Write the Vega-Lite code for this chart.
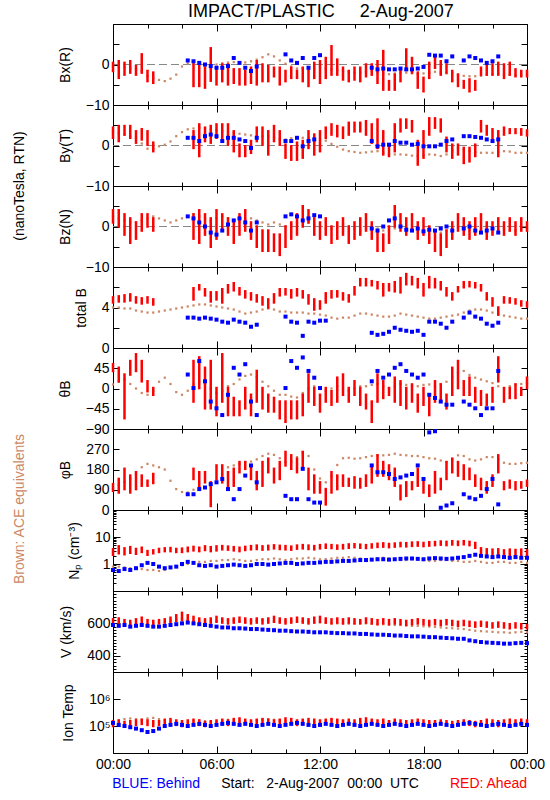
{
"padding":{"left":5,"top":2,"right":0,"bottom":0},
"background":"white",
"title":{"text":"IMPACT/PLASTIC\u00a0\u00a0\u00a0\u00a0\u00a02-Aug-2007","fontSize":18,"fontWeight":"normal","font":"Liberation Sans","anchor":"start","frame":"group","dx":183,"offset":-4,"color":"#000000"},
"data":{"values":[
{"t":0,"xr1":-1.6,"xr2":0.4,"xa":-0.4,"yr1":1.9,"yr2":4.4,"ya":3.5,"zr1":1,"zr2":4,"za":2.5,"br1":4.5,"br2":5.0,"ba":4.0,"hr1":39,"hr2":54,"ha":9,"pr1":85,"pr2":115,"pa":95,"nr1":2.2,"nr2":3.5,"nb":0.6,"na":0.8,"vr1":600,"vr2":625,"vb":590,"va":590,"tr1":1.0e5,"tr2":1.5e5,"tb":1.3e5,"ta":1.5e5},
{"t":20,"xr1":-3.3,"xr2":0.8,"xa":-0.5,"yr1":1.1,"yr2":4.8,"ya":3,"zr1":0,"zr2":4,"za":2,"br1":4.6,"br2":5.1,"ba":4.0,"hr1":16,"hr2":46,"ha":15,"pr1":78,"pr2":138,"pa":110,"nr1":2.5,"nr2":4.5,"nb":0.55,"na":0.8,"vr1":605,"vr2":630,"vb":585,"va":595,"tr1":1.1e5,"tr2":1.6e5,"tb":1.1e5,"ta":1.6e5},
{"t":40,"xr1":-2.5,"xr2":0.4,"xa":-0.7,"yr1":2.7,"yr2":4.8,"ya":2.7,"zr1":-2,"zr2":3,"za":1.5,"br1":4.6,"br2":5.2,"ba":3.9,"hr1":-66,"hr2":31,"ha":20,"pr1":93,"pr2":183,"pa":125,"nr1":2.3,"nr2":3.8,"nb":0.65,"na":0.75,"vr1":600,"vr2":620,"vb":590,"va":600,"tr1":1.0e5,"tr2":1.4e5,"tb":1.0e5,"ta":1.8e5},
{"t":60,"xr1":-2,"xr2":0.8,"xa":-1,"yr1":1.9,"yr2":4.8,"ya":2.3,"zr1":-4,"zr2":2,"za":1,"br1":4.7,"br2":5.3,"ba":3.9,"hr1":31,"hr2":61,"ha":10,"pr1":78,"pr2":153,"pa":140,"nr1":2.6,"nr2":4.2,"nb":0.6,"na":0.7,"vr1":595,"vr2":615,"vb":580,"va":600,"tr1":1.0e5,"tr2":1.5e5,"tb":9e4,"ta":1.9e5},
{"t":80,"xr1":-2.5,"xr2":-0.4,"xa":-1.2,"yr1":0.7,"yr2":3.5,"ya":1.9,"zr1":-3,"zr2":1,"za":1,"br1":4.5,"br2":5.0,"ba":3.7,"hr1":39,"hr2":76,"ha":0,"pr1":93,"pr2":168,"pa":160,"nr1":2.4,"nr2":3.6,"nb":0.7,"na":0.7,"vr1":600,"vr2":625,"vb":585,"va":595,"tr1":1.1e5,"tr2":1.6e5,"tb":8e4,"ta":1.8e5},
{"t":100,"xr1":-2,"xr2":2.5,"xa":-1.6,"yr1":1.5,"yr2":4,"ya":0.5,"zr1":-1,"zr2":3,"za":1.5,"br1":4.4,"br2":4.9,"ba":3.6,"hr1":16,"hr2":61,"ha":-10,"pr1":108,"pr2":153,"pa":190,"nr1":2.8,"nr2":4.0,"nb":0.9,"na":0.65,"vr1":605,"vr2":635,"vb":590,"va":590,"tr1":1.2e5,"tr2":1.7e5,"tb":7e4,"ta":1.7e5},
{"t":120,"xr1":-4.1,"xr2":-1.6,"xa":-2.8,"yr1":0.2,"yr2":3.5,"ya":-0.8,"zr1":0,"zr2":3,"za":2,"br1":4.5,"br2":5.0,"ba":3.5,"hr1":-6,"hr2":16,"ha":-14,"pr1":108,"pr2":130,"pa":205,"nr1":2.2,"nr2":3.0,"nb":1.1,"na":0.6,"vr1":600,"vr2":620,"vb":585,"va":595,"tr1":1.1e5,"tr2":1.6e5,"tb":6e4,"ta":1.9e5},
{"t":140,"xr1":-4.5,"xr2":-2,"xa":-3.3,"yr1":-1.4,"yr2":0.7,"ya":-0.8,"zr1":-1,"zr2":2,"za":2.5,"br1":4.3,"br2":4.8,"ba":3.5,"hr1":-14,"hr2":1,"ha":-5,"pr1":120,"pr2":160,"pa":198,"nr1":2.5,"nr2":3.2,"nb":1.0,"na":0.6,"vr1":595,"vr2":615,"vb":580,"va":600,"tr1":1.0e5,"tr2":1.5e5,"tb":6.5e4,"ta":2.0e5},
{"t":160,"xa":-3.8,"ya":-0.2,"za":2,"ba":3.6,"ha":15,"pa":190,"nr1":2.8,"nr2":3.6,"nb":0.8,"na":0.55,"vr1":600,"vr2":620,"vb":580,"va":605,"tr1":1.1e5,"tr2":1.5e5,"tb":8e4,"ta":1.8e5},
{"t":180,"xa":-4.1,"ya":0.2,"za":1.5,"ba":3.7,"ha":24,"pa":180,"nr1":3.0,"nr2":3.8,"nb":0.7,"na":0.6,"vr1":605,"vr2":625,"vb":585,"va":610,"tr1":1.2e5,"tr2":1.7e5,"tb":1.0e5,"ta":1.6e5},
{"t":200,"xa":-3.5,"ya":1.0,"za":1,"ba":3.8,"ha":10,"pa":130,"nr1":3.0,"nr2":3.9,"nb":0.75,"na":0.7,"vr1":610,"vr2":635,"vb":590,"va":615,"tr1":1.2e5,"tr2":1.8e5,"tb":1.1e5,"ta":1.5e5},
{"t":220,"xa":-2.5,"ya":2.3,"za":1.5,"ba":3.9,"ha":-8,"pa":93,"nr1":2.8,"nr2":3.6,"nb":0.8,"na":0.8,"vr1":615,"vr2":650,"vb":595,"va":620,"tr1":1.1e5,"tr2":1.6e5,"tb":1.2e5,"ta":1.4e5},
{"t":240,"xa":-0.5,"ya":3.3,"za":2,"ba":4.0,"ha":-14,"pa":80,"nr1":2.8,"nr2":3.7,"nb":1.0,"na":0.9,"vr1":620,"vr2":665,"vb":600,"va":625,"tr1":1.0e5,"tr2":1.5e5,"tb":1.1e5,"ta":1.3e5},
{"t":260,"xb":1.0,"xa":0.3,"yb":1.9,"ya":4.0,"zb":2.5,"za":2.5,"bb":3.0,"ba":4.1,"hb":31,"ha":-5,"pb":70,"pa":78,"nr1":3.0,"nr2":4.0,"nb":1.2,"na":1.0,"vr1":615,"vr2":650,"vb":605,"va":620,"tr1":1.1e5,"tr2":1.6e5,"tb":1.0e5,"ta":1.4e5},
{"t":280,"xr1":-5.3,"xr2":0,"xb":0.8,"xa":0.2,"yr1":-0.6,"yr2":3.5,"yb":1.9,"ya":4.2,"zr1":-3,"zr2":3,"zb":2.0,"za":3,"br1":4.8,"br2":5.9,"bb":3.0,"ba":4.2,"hr1":-29,"hr2":61,"hb":1,"ha":9,"pr1":138,"pr2":183,"pb":70,"pa":90,"nr1":3.2,"nr2":4.3,"nb":1.1,"na":1.1,"vr1":610,"vr2":640,"vb":600,"va":615,"tr1":1.2e5,"tr2":1.7e5,"tb":1.1e5,"ta":1.5e5},
{"t":300,"xr1":-5.3,"xr2":-0.4,"xb":0.4,"xa":0,"yr1":-2.6,"yr2":5.2,"yb":1.1,"ya":4.4,"zr1":-4,"zr2":4,"zb":1.0,"za":2.5,"br1":5.8,"br2":6.2,"bb":2.9,"ba":4.3,"hr1":1,"hr2":69,"hb":61,"ha":15,"pr1":93,"pr2":168,"pb":93,"pa":100,"nr1":3.0,"nr2":4.0,"nb":0.9,"na":1.2,"vr1":605,"vr2":630,"vb":595,"va":612,"tr1":1.1e5,"tr2":1.6e5,"tb":1.2e5,"ta":1.6e5},
{"t":320,"xr1":-5.7,"xr2":-0.8,"xb":0,"xa":-0.3,"yr1":1.1,"yr2":4.4,"yb":2.3,"ya":4.3,"zr1":-2,"zr2":3,"zb":0,"za":2,"br1":5.2,"br2":5.8,"bb":3.0,"ba":4.3,"hr1":-44,"hr2":46,"hb":16,"ha":10,"pr1":123,"pr2":168,"pb":100,"pa":100,"nr1":3.3,"nr2":4.5,"nb":0.85,"na":1.2,"vr1":600,"vr2":625,"vb":590,"va":610,"tr1":1.0e5,"tr2":1.4e5,"tb":1.1e5,"ta":1.5e5},
{"t":340,"xr1":-4,"xr2":4,"xb":-0.4,"xa":-0.5,"yr1":0.7,"yr2":4.8,"yb":2.7,"ya":4,"zr1":-5,"zr2":2,"zb":-1.5,"za":1.5,"br1":4.6,"br2":5.5,"bb":2.9,"ba":4.2,"hr1":-44,"hr2":61,"hb":-29,"ha":0,"pr1":18,"pr2":123,"pb":115,"pa":110,"nr1":3.0,"nr2":4.2,"nb":0.9,"na":1.3,"vr1":605,"vr2":630,"vb":585,"va":612,"tr1":1.0e5,"tr2":1.5e5,"tb":1.0e5,"ta":1.4e5},
{"t":360,"xr1":-4.9,"xr2":-0.8,"xb":-0.8,"xa":0,"yr1":1.9,"yr2":5.2,"yb":2.3,"ya":3.8,"zr1":-3,"zr2":4,"zb":-2,"za":2,"br1":4.8,"br2":5.5,"bb":2.8,"ba":4.1,"hr1":-59,"hr2":1,"hb":-44,"ha":-10,"pr1":138,"pr2":198,"pb":123,"pa":130,"nr1":3.2,"nr2":4.5,"nb":0.8,"na":1.3,"vr1":610,"vr2":640,"vb":580,"va":615,"tr1":1.1e5,"tr2":1.6e5,"tb":1.1e5,"ta":1.5e5},
{"t":380,"xr1":-4.1,"xr2":0,"xb":-0.8,"xa":0.3,"yr1":1.1,"yr2":5.2,"yb":1.1,"ya":3.5,"zr1":-1,"zr2":3,"zb":-1,"za":2.5,"br1":4.5,"br2":5.8,"bb":2.6,"ba":4.0,"hr1":-29,"hr2":76,"hb":-59,"ha":-5,"pr1":123,"pr2":198,"pb":138,"pa":160,"nr1":3.5,"nr2":4.6,"nb":0.85,"na":1.4,"vr1":605,"vr2":630,"vb":575,"va":618,"tr1":1.2e5,"tr2":1.7e5,"tb":1.2e5,"ta":1.6e5},
{"t":400,"xr1":-4.9,"xr2":0,"xb":-0.4,"xa":0.5,"yr1":0.2,"yr2":5.2,"yb":1.9,"ya":3.2,"zr1":-2,"zr2":2,"zb":0.5,"za":2,"br1":5.5,"br2":6.2,"bb":2.5,"ba":3.9,"hr1":-59,"hr2":1,"hb":-14,"ha":5,"pr1":93,"pr2":168,"pb":93,"pa":190,"nr1":3.4,"nr2":4.4,"nb":0.9,"na":1.4,"vr1":600,"vr2":625,"vb":575,"va":620,"tr1":1.1e5,"tr2":1.6e5,"tb":1.3e5,"ta":1.7e5},
{"t":420,"xr1":-4.5,"xr2":-1.2,"xb":1.6,"xa":0.6,"yr1":-1.4,"yr2":3.5,"yb":1.9,"ya":3.1,"zr1":-4,"zr2":1,"zb":1.5,"za":1.5,"br1":5.7,"br2":6.4,"bb":2.8,"ba":3.8,"hr1":-59,"hr2":-21,"hb":46,"ha":10,"pr1":108,"pr2":183,"pb":48,"pa":198,"nr1":3.2,"nr2":4.2,"nb":0.95,"na":1.5,"vr1":605,"vr2":630,"vb":570,"va":618,"tr1":1.2e5,"tr2":1.8e5,"tb":1.2e5,"ta":1.6e5},
{"t":440,"xr1":-4.9,"xr2":-1.2,"xb":0.4,"xa":0.4,"yr1":-2.6,"yr2":0.2,"yb":1.5,"ya":2.9,"zr1":-2,"zr2":3,"zb":2,"za":1,"br1":5.3,"br2":5.9,"bb":2.6,"ba":3.6,"hr1":-59,"hr2":-29,"hb":31,"ha":20,"pr1":168,"pr2":213,"pb":93,"pa":205,"nr1":3.0,"nr2":4.0,"nb":0.9,"na":1.4,"vr1":610,"vr2":635,"vb":570,"va":615,"tr1":1.3e5,"tr2":1.9e5,"tb":1.1e5,"ta":1.5e5},
{"t":460,"xr1":-4.9,"xr2":-1.6,"xb":-0.8,"xa":0.5,"yr1":-2.6,"yr2":-0.2,"yb":1.1,"ya":2.7,"zr1":-1,"zr2":4,"zb":1,"za":1.5,"br1":5.0,"br2":5.6,"bb":2.5,"ba":3.4,"hr1":-44,"hr2":1,"hb":54,"ha":28,"pr1":183,"pr2":213,"pb":153,"pa":213,"nr1":3.3,"nr2":4.3,"nb":0.85,"na":1.3,"vr1":605,"vr2":630,"vb":568,"va":612,"tr1":1.2e5,"tr2":1.7e5,"tb":1.2e5,"ta":1.4e5},
{"t":480,"xr1":-4.5,"xr2":-0.8,"xb":-1.6,"xa":0.8,"yr1":-1.8,"yr2":1.1,"yb":-0.6,"ya":2.5,"zr1":-3,"zr2":1,"zb":-1,"za":2,"br1":4.8,"br2":5.4,"bb":2.1,"ba":3.5,"hr1":-59,"hr2":-14,"hb":-29,"ha":31,"pr1":138,"pr2":198,"pb":198,"pa":215,"nr1":3.5,"nr2":4.6,"nb":0.9,"na":1.3,"vr1":600,"vr2":625,"vb":565,"va":615,"tr1":1.1e5,"tr2":1.6e5,"tb":1.1e5,"ta":1.5e5},
{"t":500,"xr1":-4.9,"xr2":0.8,"xb":-0.5,"xa":1.2,"yr1":1.1,"yr2":4.4,"yb":1.9,"ya":2.3,"zr1":-5,"zr2":0,"zb":1,"za":1.5,"br1":4.6,"br2":5.2,"bb":2.3,"ba":3.6,"hr1":-29,"hr2":39,"hb":-59,"ha":25,"pr1":93,"pr2":168,"pb":123,"pa":225,"nr1":3.6,"nr2":4.8,"nb":1.0,"na":1.4,"vr1":605,"vr2":630,"vb":565,"va":618,"tr1":1.2e5,"tr2":1.7e5,"tb":1.0e5,"ta":1.6e5},
{"t":520,"xr1":-4.1,"xr2":0,"xa":1.8,"yr1":0.2,"yr2":4.4,"ya":2.3,"zr1":-6,"zr2":-1,"za":1,"br1":4.3,"br2":5.0,"ba":3.8,"hr1":-44,"hr2":1,"ha":15,"pr1":108,"pr2":213,"pa":240,"nr1":3.4,"nr2":4.5,"nb":1.0,"na":1.5,"vr1":600,"vr2":625,"vb":562,"va":620,"tr1":1.3e5,"tr2":1.8e5,"tb":1.1e5,"ta":1.7e5},
{"t":540,"xr1":-4.1,"xr2":-0.4,"xa":2.5,"yr1":-2.2,"yr2":3.5,"ya":2.3,"zr1":-6,"zr2":-1,"za":0.5,"br1":4.0,"br2":4.8,"ba":3.9,"hr1":-51,"hr2":-14,"ha":5,"pr1":168,"pr2":228,"pa":250,"nr1":3.5,"nr2":4.7,"nb":0.95,"na":1.5,"vr1":605,"vr2":630,"vb":560,"va":618,"tr1":1.2e5,"tr2":1.7e5,"tb":1.2e5,"ta":1.8e5},
{"t":560,"xr1":-2.9,"xr2":-0.8,"xa":2.0,"yr1":1.1,"yr2":4.8,"ya":2,"zr1":-6,"zr2":-2,"za":1,"br1":4.5,"br2":5.3,"ba":3.8,"hr1":-51,"hr2":-21,"ha":-5,"pr1":123,"pr2":183,"pa":245,"nr1":3.8,"nr2":4.9,"nb":1.0,"na":1.6,"vr1":610,"vr2":640,"vb":558,"va":615,"tr1":1.1e5,"tr2":1.6e5,"tb":1.1e5,"ta":1.7e5},
{"t":580,"xr1":-4.9,"xr2":-0.8,"xa":1.0,"yr1":0.2,"yr2":3.5,"ya":1.6,"zr1":-7,"zr2":-2,"za":0.5,"br1":5.2,"br2":5.8,"ba":3.6,"hr1":-66,"hr2":-29,"ha":-14,"pr1":138,"pr2":213,"pa":230,"nr1":3.6,"nr2":4.7,"nb":1.05,"na":1.5,"vr1":605,"vr2":630,"vb":555,"va":612,"tr1":1.2e5,"tr2":1.7e5,"tb":1.0e5,"ta":1.6e5},
{"t":600,"xr1":-4.1,"xr2":-1.6,"xb":2.5,"xa":0.2,"yr1":-3,"yr2":0.2,"yb":1.1,"ya":1.5,"zr1":-5,"zr2":0,"zb":2.5,"za":0,"br1":5.3,"br2":5.8,"bb":3.1,"ba":3.6,"hr1":-74,"hr2":-29,"hb":1,"ha":-14,"pr1":198,"pr2":258,"pb":63,"pa":213,"nr1":3.5,"nr2":4.6,"nb":1.1,"na":1.4,"vr1":600,"vr2":625,"vb":555,"va":610,"tr1":1.3e5,"tr2":1.9e5,"tb":1.1e5,"ta":1.5e5},
{"t":620,"xr1":-3.3,"xr2":-0.8,"xb":1.0,"xa":-0.5,"yr1":-3.5,"yr2":-0.2,"yb":1.1,"ya":1.8,"zr1":-3,"zr2":1,"zb":3,"za":0.5,"br1":5.0,"br2":5.7,"bb":2.6,"ba":3.5,"hr1":-66,"hr2":-29,"hb":61,"ha":-18,"pr1":183,"pr2":243,"pb":48,"pa":215,"nr1":3.4,"nr2":4.4,"nb":1.1,"na":1.5,"vr1":605,"vr2":630,"vb":552,"va":612,"tr1":1.2e5,"tr2":1.8e5,"tb":1.2e5,"ta":1.4e5},
{"t":640,"xr1":-3.3,"xr2":-1.6,"xb":0.4,"xa":-1,"yr1":-3.5,"yr2":0.7,"yb":1.9,"ya":1.9,"zr1":-2,"zr2":3,"zb":2.5,"za":1,"br1":5.2,"br2":5.8,"bb":2.5,"ba":3.5,"hr1":-66,"hr2":-29,"hb":46,"ha":-20,"pr1":168,"pr2":228,"pb":48,"pa":235,"nr1":3.7,"nr2":4.8,"nb":1.0,"na":1.6,"vr1":610,"vr2":635,"vb":550,"va":615,"tr1":1.1e5,"tr2":1.6e5,"tb":1.3e5,"ta":1.5e5},
{"t":660,"xr1":-4.1,"xr2":-0.8,"xb":1.6,"xa":-1,"yr1":-3,"yr2":1.1,"yb":-0.2,"ya":1.9,"zr1":0,"zr2":5,"zb":1.5,"za":1.5,"br1":5.0,"br2":5.6,"bb":1.2,"ba":3.5,"hr1":-59,"hr2":-14,"hb":69,"ha":-10,"pr1":183,"pr2":258,"pb":183,"pa":255,"nr1":3.8,"nr2":5.0,"nb":1.05,"na":1.6,"vr1":605,"vr2":630,"vb":550,"va":612,"tr1":1.2e5,"tr2":1.7e5,"tb":1.2e5,"ta":1.6e5},
{"t":680,"xr1":-5.3,"xr2":-0.8,"xb":-0.8,"xa":-1.2,"yr1":-0.6,"yr2":3.5,"yb":1.1,"ya":1.9,"zr1":1,"zr2":4,"zb":2,"za":1,"br1":4.4,"br2":5.2,"bb":2.6,"ba":3.4,"hr1":-29,"hr2":31,"hb":39,"ha":0,"pr1":93,"pr2":183,"pb":48,"pa":240,"nr1":3.6,"nr2":4.8,"nb":1.1,"na":1.7,"vr1":600,"vr2":625,"vb":548,"va":610,"tr1":1.3e5,"tr2":1.8e5,"tb":1.1e5,"ta":1.5e5},
{"t":700,"xr1":-3.3,"xr2":0.4,"xb":1.6,"xa":-1,"yr1":-2.2,"yr2":2.7,"yb":1.5,"ya":1.7,"zr1":-2,"zr2":2,"zb":2.8,"za":0.5,"br1":3.8,"br2":4.8,"bb":2.5,"ba":3.4,"hr1":-36,"hr2":1,"hb":24,"ha":5,"pr1":78,"pr2":153,"pb":33,"pa":180,"nr1":3.5,"nr2":4.6,"nb":1.1,"na":1.6,"vr1":605,"vr2":635,"vb":545,"va":608,"tr1":1.2e5,"tr2":1.7e5,"tb":1.0e5,"ta":1.4e5},
{"t":720,"xr1":-4.5,"xr2":0.8,"xb":2.3,"xa":-0.8,"yr1":-1.4,"yr2":3.5,"ya":1.5,"zr1":-3,"zr2":1,"zb":2.5,"za":0,"br1":3.9,"br2":4.6,"bb":2.7,"ba":3.3,"hr1":-51,"hr2":-14,"hb":1,"ha":0,"pr1":78,"pr2":123,"pb":33,"pa":140,"nr1":3.8,"nr2":5.0,"nb":1.15,"na":1.5,"vr1":610,"vr2":640,"vb":545,"va":605,"tr1":1.1e5,"tr2":1.6e5,"tb":1.1e5,"ta":1.5e5},
{"t":740,"xr1":-3.3,"xr2":1.6,"xa":-1,"yr1":1.9,"yr2":4.4,"ya":1.2,"zr1":-2,"zr2":2,"za":-0.5,"br1":4.5,"br2":5.4,"bb":2.7,"ba":3.2,"hr1":-29,"hr2":1,"ha":-5,"pr1":25,"pr2":93,"pa":123,"nr1":4.0,"nr2":5.2,"nb":1.2,"na":1.5,"vr1":605,"vr2":630,"vb":545,"va":605,"tr1":1.2e5,"tr2":1.7e5,"tb":1.2e5,"ta":1.6e5},
{"t":760,"xr1":-2.5,"xr2":4.5,"xa":-1.2,"yr1":2.7,"yr2":5.2,"ya":0.4,"zr1":-4,"zr2":0,"za":-0.5,"br1":5.0,"br2":5.6,"ba":3.0,"hr1":-36,"hr2":-6,"ha":0,"pr1":78,"pr2":168,"pa":150,"nr1":3.9,"nr2":5.0,"nb":1.2,"na":1.6,"vr1":600,"vr2":625,"vb":542,"va":602,"tr1":1.3e5,"tr2":1.8e5,"tb":1.1e5,"ta":1.7e5},
{"t":780,"xr1":-2.5,"xr2":1.2,"xa":-1.4,"yr1":2.3,"yr2":4.8,"ya":-0.3,"zr1":-3,"zr2":1,"za":0,"br1":5.1,"br2":5.6,"ba":2.9,"hr1":-29,"hr2":24,"ha":5,"pr1":93,"pr2":153,"pa":200,"nr1":3.7,"nr2":4.8,"nb":1.25,"na":1.7,"vr1":605,"vr2":630,"vb":540,"va":600,"tr1":1.2e5,"tr2":1.7e5,"tb":1.0e5,"ta":1.6e5},
{"t":800,"xr1":-3.7,"xr2":-0.8,"xa":-1.6,"yr1":1.9,"yr2":4.4,"ya":-1,"zr1":-2,"zr2":2,"za":0.5,"br1":4.8,"br2":5.4,"ba":3.0,"hr1":-14,"hr2":31,"ha":0,"pr1":108,"pr2":153,"pa":230,"nr1":3.8,"nr2":5.0,"nb":1.3,"na":1.7,"vr1":600,"vr2":625,"vb":540,"va":600,"tr1":1.1e5,"tr2":1.6e5,"tb":1.1e5,"ta":1.5e5},
{"t":820,"xr1":-4.1,"xr2":-1.6,"xa":-1.8,"yr1":2.7,"yr2":5.6,"ya":-1.4,"zr1":-4,"zr2":0,"za":0,"br1":4.6,"br2":5.2,"ba":3.0,"hr1":-29,"hr2":1,"ha":-5,"pr1":108,"pr2":138,"pa":232,"nr1":4.0,"nr2":5.3,"nb":1.3,"na":1.8,"vr1":605,"vr2":630,"vb":538,"va":598,"tr1":1.2e5,"tr2":1.7e5,"tb":1.2e5,"ta":1.4e5},
{"t":840,"xr1":-3.7,"xr2":-0.8,"xa":-2,"yr1":3.5,"yr2":5.6,"ya":-1.6,"zr1":-3,"zr2":1,"za":-0.5,"br1":5.3,"br2":6.0,"ba":3.2,"hr1":-14,"hr2":16,"ha":0,"pr1":100,"pr2":145,"pa":228,"nr1":4.2,"nr2":5.4,"nb":1.35,"na":1.7,"vr1":600,"vr2":625,"vb":538,"va":600,"tr1":1.1e5,"tr2":1.6e5,"tb":1.1e5,"ta":1.3e5},
{"t":860,"xr1":-4.1,"xr2":-0.8,"xa":-2,"yr1":3.5,"yr2":5.6,"ya":-1.8,"zr1":-2,"zr2":2,"za":-1,"br1":6.2,"br2":6.8,"ba":3.4,"hr1":-36,"hr2":1,"ha":5,"pr1":100,"pr2":138,"pa":230,"nr1":4.0,"nr2":5.2,"nb":1.4,"na":1.6,"vr1":600,"vr2":620,"vb":535,"va":602,"tr1":1.2e5,"tr2":1.8e5,"tb":1.0e5,"ta":1.4e5},
{"t":880,"xr1":-2.9,"xr2":0,"xa":-1.8,"yr1":2.7,"yr2":6,"ya":-1.7,"zr1":-1,"zr2":3,"za":-0.5,"br1":6.2,"br2":6.8,"ba":3.4,"hr1":-44,"hr2":-14,"ha":5,"pr1":108,"pr2":153,"pa":235,"nr1":3.9,"nr2":5.0,"nb":1.4,"na":1.5,"vr1":605,"vr2":630,"vb":535,"va":600,"tr1":1.3e5,"tr2":1.9e5,"tb":1.1e5,"ta":1.5e5},
{"t":900,"xr1":-2.5,"xr2":0,"xb":-0.8,"xa":-1.6,"yr1":0.7,"yr2":5.2,"yb":1.1,"ya":-1.5,"zr1":-3,"zr2":1,"zb":-0.5,"za":0,"br1":6.2,"br2":6.6,"bb":1.5,"ba":3.3,"hr1":-74,"hr2":-29,"hb":16,"ha":8,"pr1":123,"pr2":198,"pb":198,"pa":240,"nr1":4.1,"nr2":5.3,"nb":1.45,"na":1.5,"vr1":600,"vr2":625,"vb":532,"va":598,"tr1":1.2e5,"tr2":1.7e5,"tb":1.2e5,"ta":1.4e5},
{"t":920,"xr1":-4.5,"xr2":0.8,"xb":-1.2,"xa":-2,"yr1":-0.6,"yr2":6.4,"yb":-0.2,"ya":-1.4,"zr1":-6,"zr2":-1,"zb":-1,"za":-0.5,"br1":5.9,"br2":6.5,"bb":1.3,"ba":3.2,"hr1":-29,"hr2":31,"hb":39,"ha":10,"pr1":153,"pr2":243,"pb":168,"pa":243,"nr1":4.3,"nr2":5.6,"nb":1.5,"na":1.6,"vr1":595,"vr2":620,"vb":530,"va":595,"tr1":1.1e5,"tr2":1.6e5,"tb":1.1e5,"ta":1.3e5},
{"t":940,"xr1":-6.2,"xr2":3.3,"xb":-1.0,"xa":-2.2,"yr1":-2.2,"yr2":3.5,"yb":0.2,"ya":-1.8,"zr1":-6,"zr2":-2,"zb":0,"za":-1,"br1":5.2,"br2":6.3,"bb":1.4,"ba":3.1,"hr1":-21,"hr2":16,"hb":24,"ha":5,"pr1":153,"pr2":213,"pb":168,"pa":243,"nr1":4.4,"nr2":5.8,"nb":1.5,"na":1.7,"vr1":600,"vr2":625,"vb":530,"va":595,"tr1":1.2e5,"tr2":1.7e5,"tb":1.0e5,"ta":1.4e5},
{"t":960,"xr1":-6.2,"xr2":-4.1,"xb":-1.2,"xa":-2.4,"yr1":-2.6,"yr2":0.2,"yb":0.2,"ya":-2.2,"zr1":-4,"zr2":0,"zb":1.5,"za":-1,"br1":5.7,"br2":6.3,"bb":1.6,"ba":3.1,"hr1":-14,"hr2":1,"hb":31,"ha":0,"pr1":138,"pr2":198,"pb":160,"pa":245,"nr1":4.2,"nr2":5.5,"nb":1.45,"na":1.6,"vr1":595,"vr2":620,"vb":528,"va":592,"tr1":1.1e5,"tr2":1.5e5,"tb":1.1e5,"ta":1.5e5},
{"t":980,"xr1":-6.2,"xr2":-2.5,"xb":-1.2,"xa":-2.2,"yr1":-1.4,"yr2":5.2,"yb":1.1,"ya":-2.2,"zr1":0,"zr2":5,"zb":2,"za":-0.5,"br1":5.6,"br2":6.5,"bb":2.0,"ba":3.2,"hr1":-29,"hr2":24,"hb":46,"ha":5,"pr1":108,"pr2":183,"pb":138,"pa":250,"nr1":4.4,"nr2":5.7,"nb":1.5,"na":1.5,"vr1":600,"vr2":625,"vb":525,"va":590,"tr1":1.2e5,"tr2":1.7e5,"tb":1.2e5,"ta":1.4e5},
{"t":1000,"xr1":-4.1,"xr2":-1.6,"xb":-1.0,"xa":-2,"yr1":3.5,"yr2":6.4,"yb":0.7,"ya":-2.2,"zr1":-1,"zr2":3,"zb":0,"za":0,"br1":5.5,"br2":6.9,"bb":1.8,"ba":3.4,"hr1":-36,"hr2":16,"hb":54,"ha":10,"pr1":48,"pr2":108,"pb":145,"pa":245,"nr1":4.6,"nr2":6.0,"nb":1.55,"na":1.4,"vr1":595,"vr2":620,"vb":525,"va":590,"tr1":1.1e5,"tr2":1.6e5,"tb":1.1e5,"ta":1.3e5},
{"t":1020,"xr1":-0.8,"xr2":3.7,"xb":-1.2,"xa":-2,"yr1":4.4,"yr2":6.4,"yb":0.7,"ya":-2.3,"zr1":-2,"zr2":2,"zb":-0.8,"za":-0.5,"br1":6.3,"br2":7.3,"bb":1.7,"ba":3.3,"hr1":-44,"hr2":1,"hb":39,"ha":8,"pr1":63,"pr2":123,"pb":153,"pa":243,"nr1":4.5,"nr2":5.9,"nb":1.6,"na":1.4,"vr1":590,"vr2":615,"vb":522,"va":588,"tr1":1.0e5,"tr2":1.5e5,"tb":1.0e5,"ta":1.2e5},
{"t":1040,"xr1":-2,"xr2":1.6,"xb":-1.2,"xa":-2.2,"yr1":3.5,"yr2":6,"yb":0.2,"ya":-2.5,"zr1":-1,"zr2":3,"zb":-1,"za":-1,"br1":6.3,"br2":7.0,"bb":1.6,"ba":3.2,"hr1":-29,"hr2":9,"hb":31,"ha":5,"pr1":93,"pr2":123,"pb":160,"pa":240,"nr1":4.7,"nr2":6.2,"nb":1.6,"na":1.5,"vr1":595,"vr2":620,"vb":520,"va":585,"tr1":1.1e5,"tr2":1.6e5,"tb":1.1e5,"ta":1.3e5},
{"t":1060,"xr1":-5.7,"xr2":-2,"xb":-1.0,"xa":-2.4,"yr1":-4.7,"yr2":1.1,"yb":0.4,"ya":-2.6,"zr1":-3,"zr2":1,"zb":-0.5,"za":-1.5,"br1":6.0,"br2":6.8,"bb":1.7,"ba":3.1,"hr1":-51,"hr2":-14,"hb":24,"ha":5,"pr1":108,"pr2":183,"pb":198,"pa":240,"nr1":4.8,"nr2":6.3,"nb":1.55,"na":1.5,"vr1":600,"vr2":625,"vb":520,"va":585,"tr1":1.2e5,"tr2":1.7e5,"tb":1.2e5,"ta":1.4e5},
{"t":1080,"xr1":-6.6,"xr2":-3.3,"xb":-0.6,"xa":-2.2,"yr1":-3,"yr2":3.5,"yb":-0.2,"ya":-2.4,"zr1":-2,"zr2":2,"zb":-1.2,"za":-1,"br1":5.2,"br2":6.3,"bb":1.3,"ba":3.0,"hr1":-36,"hr2":1,"hb":31,"ha":8,"pr1":78,"pr2":138,"pb":138,"pa":235,"nr1":4.6,"nr2":6.0,"nb":1.5,"na":1.4,"vr1":595,"vr2":620,"vb":518,"va":582,"tr1":1.1e5,"tr2":1.6e5,"tb":1.1e5,"ta":1.3e5},
{"t":1100,"xr1":-3.3,"xr2":0.4,"xb":2.4,"xa":-2,"yr1":2.7,"yr2":6.7,"yb":-0.2,"ya":-2.2,"zr1":-4,"zr2":0,"zb":-0.8,"za":-0.5,"br1":6.0,"br2":7.0,"bb":2.6,"ba":2.9,"hr1":-59,"hr2":-14,"hb":-14,"ha":9,"pr1":63,"pr2":108,"pb":345,"pa":230,"nr1":4.8,"nr2":6.4,"nb":1.6,"na":1.3,"vr1":590,"vr2":615,"vb":515,"va":580,"tr1":1.0e5,"tr2":1.5e5,"tb":1.0e5,"ta":1.2e5},
{"t":1120,"xr1":-0.8,"xr2":1.6,"xb":2.2,"xa":-1.8,"yr1":4.4,"yr2":6.7,"yb":-0.2,"ya":-2.3,"zr1":-6,"zr2":-1,"zb":-1,"za":-1,"br1":6.0,"br2":6.8,"bb":2.6,"ba":2.9,"hr1":-29,"hr2":16,"hb":-21,"ha":5,"pr1":78,"pr2":168,"pb":350,"pa":228,"nr1":5.0,"nr2":6.5,"nb":1.65,"na":1.3,"vr1":595,"vr2":620,"vb":515,"va":578,"tr1":1.1e5,"tr2":1.5e5,"tb":1.1e5,"ta":1.3e5},
{"t":1140,"xr1":-2.5,"xr2":0.8,"xb":2.2,"xa":-2,"yr1":3.5,"yr2":6.4,"yb":0.2,"ya":-2.6,"zr1":-7,"zr2":-2,"zb":-0.5,"za":-1.5,"br1":5.8,"br2":6.5,"bb":2.4,"ba":3.0,"hr1":-29,"hr2":9,"hb":-29,"ha":10,"pr1":93,"pr2":138,"pb":10,"pa":220,"nr1":5.2,"nr2":6.8,"nb":1.6,"na":1.4,"vr1":590,"vr2":615,"vb":512,"va":575,"tr1":1.2e5,"tr2":1.6e5,"tb":1.2e5,"ta":1.4e5},
{"t":1160,"xr1":-2,"xr2":0,"xb":0.8,"xa":-2.2,"yr1":-1.4,"yr2":1.9,"yb":1.1,"ya":-2.2,"zr1":-5,"zr2":-1,"zb":0,"za":-1,"br1":5.2,"br2":5.9,"bb":2.0,"ba":3.1,"hr1":-44,"hr2":-14,"hb":-36,"ha":15,"pr1":138,"pr2":213,"pb":20,"pa":213,"nr1":5.0,"nr2":6.6,"nb":1.55,"na":1.4,"vr1":595,"vr2":620,"vb":510,"va":572,"tr1":1.1e5,"tr2":1.5e5,"tb":1.1e5,"ta":1.3e5},
{"t":1180,"xr1":-4.1,"xr2":-1.6,"xb":2.0,"xa":-2.2,"yr1":-3,"yr2":0.2,"yb":1.5,"ya":-1.2,"zr1":-3,"zr2":1,"zb":-1,"za":-0.5,"br1":4.8,"br2":5.4,"bb":2.6,"ba":3.2,"hr1":-14,"hr2":46,"hb":-36,"ha":25,"pr1":168,"pr2":228,"pb":30,"pa":225,"nr1":5.3,"nr2":7.0,"nb":1.6,"na":1.3,"vr1":590,"vr2":615,"vb":508,"va":570,"tr1":1.0e5,"tr2":1.4e5,"tb":1.0e5,"ta":1.2e5},
{"t":1200,"xr1":-5.3,"xr2":-2.5,"xa":-2.5,"yr1":-2.2,"yr2":0.2,"ya":-0.6,"zr1":-1,"zr2":3,"za":0,"br1":5.6,"br2":6.0,"ba":3.3,"hr1":1,"hr2":61,"ha":35,"pr1":153,"pr2":213,"pa":243,"nr1":5.1,"nr2":6.7,"nb":1.7,"na":1.3,"vr1":585,"vr2":610,"vb":505,"va":568,"tr1":1.1e5,"tr2":1.5e5,"tb":1.1e5,"ta":1.3e5},
{"t":1220,"xr1":-5.7,"xr2":-4.1,"xb":1.0,"xa":-2.8,"yr1":-4.3,"yr2":-0.6,"yb":2.3,"ya":-1,"zr1":-2,"zr2":2,"zb":-0.5,"za":-0.5,"br1":6.0,"br2":6.5,"bb":3.0,"ba":3.5,"hr1":-14,"hr2":16,"hb":-29,"ha":39,"pr1":138,"pr2":198,"pb":70,"pa":240,"nr1":5.4,"nr2":7.0,"nb":1.8,"na":1.2,"vr1":590,"vr2":615,"vb":505,"va":565,"tr1":1.2e5,"tr2":1.6e5,"tb":1.2e5,"ta":1.4e5},
{"t":1240,"xr1":-6.6,"xr2":-3.7,"xb":2.0,"xa":-2.9,"yr1":-3.9,"yr2":-0.6,"yb":2.3,"ya":-1.4,"zr1":-3,"zr2":1,"zb":0,"za":-1,"br1":6.1,"br2":6.5,"bb":3.5,"ba":3.7,"hr1":-14,"hr2":24,"hb":-36,"ha":30,"pr1":138,"pr2":183,"pb":55,"pa":225,"nr1":5.0,"nr2":6.6,"nb":2.0,"na":1.2,"vr1":585,"vr2":610,"vb":495,"va":560,"tr1":1.1e5,"tr2":1.5e5,"tb":1.3e5,"ta":1.3e5},
{"t":1260,"xr1":-6.2,"xr2":-4.1,"xb":1.6,"xa":-2.9,"yr1":-2.6,"yr2":0.2,"yb":2.1,"ya":-1.6,"zr1":-2,"zr2":2,"zb":-1,"za":-1,"br1":6.0,"br2":6.4,"bb":3.1,"ba":3.8,"hr1":-29,"hr2":1,"hb":-44,"ha":24,"pr1":108,"pr2":153,"pb":48,"pa":220,"nr1":4.0,"nr2":6.0,"nb":2.2,"na":1.3,"vr1":580,"vr2":605,"vb":490,"va":555,"tr1":1.0e5,"tr2":1.4e5,"tb":1.2e5,"ta":1.2e5},
{"t":1280,"xr1":-2.5,"xr2":-0.8,"xb":1.0,"xa":-2.8,"yr1":3.5,"yr2":6,"yb":1.9,"ya":-1.8,"zr1":-1,"zr2":3,"zb":-1.5,"za":-0.5,"br1":5.7,"br2":6.2,"bb":2.9,"ba":3.8,"hr1":-36,"hr2":-6,"hb":-59,"ha":20,"pr1":93,"pr2":138,"pb":63,"pa":225,"nr1":2.4,"nr2":3.8,"nb":2.0,"na":1.2,"vr1":585,"vr2":610,"vb":485,"va":552,"tr1":1.1e5,"tr2":1.5e5,"tb":1.1e5,"ta":1.3e5},
{"t":1300,"xr1":-2.5,"xr2":0.4,"xb":0.4,"xa":-2.5,"yr1":2.7,"yr2":4.8,"yb":1.5,"ya":-1.8,"zr1":-3,"zr2":1,"zb":-1,"za":-1,"br1":4.8,"br2":5.4,"bb":2.4,"ba":3.7,"hr1":-36,"hr2":-14,"hb":-44,"ha":16,"pr1":78,"pr2":123,"pb":93,"pa":235,"nr1":2.3,"nr2":3.5,"nb":1.9,"na":1.1,"vr1":580,"vr2":605,"vb":482,"va":550,"tr1":1.2e5,"tr2":1.7e5,"tb":1.0e5,"ta":1.2e5},
{"t":1320,"xr1":-2.5,"xr2":0,"xb":0.8,"xa":-2.4,"yr1":1.9,"yr2":4,"yb":1.1,"ya":-1.8,"zr1":-2,"zr2":1,"zb":-0.5,"za":-1.5,"br1":4.2,"br2":4.9,"bb":2.2,"ba":3.5,"hr1":-29,"hr2":1,"hb":-44,"ha":12,"pr1":108,"pr2":153,"pb":138,"pa":235,"nr1":2.2,"nr2":3.4,"nb":1.8,"na":1.1,"vr1":575,"vr2":600,"vb":480,"va":548,"tr1":1.1e5,"tr2":1.6e5,"tb":1.1e5,"ta":1.3e5},
{"t":1340,"xr1":-2.5,"xr2":0.4,"xb":2.0,"xa":-2.2,"yr1":-2.6,"yr2":3.5,"yb":1.5,"ya":-1.6,"zr1":-1,"zr2":2,"zb":-1.5,"za":-1,"br1":3.3,"br2":4.0,"bb":2.5,"ba":3.3,"hr1":16,"hr2":69,"hb":39,"ha":5,"pr1":168,"pr2":243,"pb":25,"pa":225,"nr1":2.2,"nr2":3.5,"nb":1.9,"na":1.2,"vr1":580,"vr2":605,"vb":478,"va":545,"tr1":1.0e5,"tr2":1.5e5,"tb":1.2e5,"ta":1.4e5},
{"t":1360,"xr1":-3.3,"xr2":0,"xa":-2.5,"yr1":2.7,"yr2":4.4,"ya":-1.4,"zr1":-2,"zr2":1,"za":-0.5,"br1":4.5,"br2":5.0,"ba":3.2,"hr1":-29,"hr2":1,"ha":0,"pr1":93,"pr2":123,"pa":210,"nr1":2.1,"nr2":3.2,"nb":1.8,"na":1.2,"vr1":575,"vr2":600,"vb":475,"va":545,"tr1":1.1e5,"tr2":1.6e5,"tb":1.1e5,"ta":1.3e5},
{"t":1380,"xr1":-2.5,"xr2":0.4,"xa":-2.5,"yr1":3.1,"yr2":4,"ya":-1.5,"zr1":-1,"zr2":2,"za":-1,"br1":4.5,"br2":4.9,"ba":3.1,"hr1":-21,"hr2":1,"ha":5,"pr1":100,"pr2":130,"pa":205,"nr1":2.2,"nr2":3.4,"nb":1.7,"na":1.1,"vr1":570,"vr2":595,"vb":475,"va":542,"tr1":1.2e5,"tr2":1.7e5,"tb":1.0e5,"ta":1.2e5},
{"t":1400,"xr1":-2.9,"xr2":-1.2,"xa":-2.6,"yr1":3.1,"yr2":4,"ya":-1.8,"zr1":-2,"zr2":1,"za":-1,"br1":4.4,"br2":4.8,"ba":3.0,"hr1":-21,"hr2":9,"ha":9,"pr1":93,"pr2":123,"pa":205,"nr1":2.1,"nr2":3.3,"nb":1.8,"na":1.1,"vr1":575,"vr2":600,"vb":478,"va":545,"tr1":1.1e5,"tr2":1.6e5,"tb":1.1e5,"ta":1.3e5},
{"t":1420,"xr1":-2.9,"xr2":-1.6,"xa":-2.6,"yr1":2.7,"yr2":4,"ya":-1.8,"zr1":-1,"zr2":2,"za":-0.5,"br1":4.2,"br2":4.6,"ba":2.9,"hr1":-14,"hr2":1,"ha":10,"pr1":100,"pr2":123,"pa":208,"nr1":2.2,"nr2":3.4,"nb":1.7,"na":1.2,"vr1":570,"vr2":595,"vb":480,"va":548,"tr1":1.2e5,"tr2":1.7e5,"tb":1.2e5,"ta":1.2e5},
{"t":1440,"xr1":-2.9,"xr2":-1.6,"xa":-2.6,"yr1":2.5,"yr2":3.7,"ya":-1.8,"zr1":-1,"zr2":1,"za":-0.5,"br1":4.1,"br2":4.5,"ba":2.9,"hr1":1,"hr2":24,"ha":12,"pr1":108,"pr2":130,"pa":210,"nr1":2.1,"nr2":3.2,"nb":1.7,"na":1.1,"vr1":570,"vr2":590,"vb":478,"va":545,"tr1":1.1e5,"tr2":1.6e5,"tb":1.1e5,"ta":1.3e5}
]},
"hconcat":[
{"width":30,"height":729,"view":{"stroke":null},
 "data":{"values":[{"p":162,"s":"(nanoTesla, RTN)","c":"k"},{"p":485,"s":"Brown: ACE equivalents","c":"a"}]},
 "layer":[
  {"transform":[{"filter":"datum.c=='k'"}],"mark":{"type":"text","angle":270,"fontSize":14,"font":"Liberation Sans","color":"#000000"},
   "encoding":{"y":{"field":"p","type":"quantitative","scale":{"domain":[0,729],"reverse":true,"nice":false,"zero":false},"axis":null},"text":{"field":"s"}}},
  {"transform":[{"filter":"datum.c=='a'"}],"mark":{"type":"text","angle":270,"fontSize":14,"font":"Liberation Sans","color":"#CC8866"},
   "encoding":{"y":{"field":"p","type":"quantitative","scale":{"domain":[0,729],"reverse":true,"nice":false,"zero":false},"axis":null},"text":{"field":"s"}}}
 ]},
{"vconcat":[
{"width":414,"height":81,"layer":[
 {"data":{"values":[{"z":0}]},"mark":{"type":"rule","color":"#888888","strokeDash":[8,4]},"encoding":{"y":{"field":"z","type":"quantitative","scale":{"domain":[-10,10],"nice":false,"zero":false},"axis":null}}},
 {"mark":{"type":"square","size":5,"color":"#CC8866","opacity":1},"encoding":{"x":{"field":"t","type":"quantitative","scale":{"domain":[0,1440],"nice":false,"zero":false},"axis":null},"y":{"field":"xa","type":"quantitative","scale":{"domain":[-10,10],"nice":false,"zero":false},"axis":null}}},
 {"mark":{"type":"rule","color":"#FF0000","strokeWidth":2.5,"strokeCap":"square"},"encoding":{"x":{"field":"t","type":"quantitative","scale":{"domain":[0,1440],"nice":false,"zero":false},"axis":{"orient":"bottom","values":[0,120,240,360,480,600,720,840,960,1080,1200,1320,1440],"labels":false,"tickSize":{"condition":{"test":"datum.value % 360 === 0","value":-7},"value":-4},"title":null}},"y":{"field":"xr1","type":"quantitative","scale":{"domain":[-10,10],"nice":false,"zero":false},"axis":{"orient":"left","values":[-10,-5,0,5,10],"labelExpr":"datum.value==0||datum.value==-10?datum.label:''","tickSize":-6,"title":"Bx(R)"}},"y2":{"field":"xr2"}}},
 {"mark":{"type":"square","size":16,"color":"#0000FF","opacity":1},"encoding":{"x":{"field":"t","type":"quantitative","scale":{"domain":[0,1440],"nice":false,"zero":false},"axis":{"orient":"top","values":[0,120,240,360,480,600,720,840,960,1080,1200,1320,1440],"labels":false,"tickSize":{"condition":{"test":"datum.value % 360 === 0","value":-7},"value":-4},"title":null}},"y":{"field":"xb","type":"quantitative","scale":{"domain":[-10,10],"nice":false,"zero":false},"axis":{"orient":"right","values":[-10,-5,0,5,10],"labels":false,"tickSize":-6,"title":null}}}}
],"resolve":{"axis":{"x":"independent","y":"independent"}}},
{"width":414,"height":81,"layer":[
 {"data":{"values":[{"z":0}]},"mark":{"type":"rule","color":"#888888","strokeDash":[8,4]},"encoding":{"y":{"field":"z","type":"quantitative","scale":{"domain":[-10,10],"nice":false,"zero":false},"axis":null}}},
 {"mark":{"type":"square","size":5,"color":"#CC8866","opacity":1},"encoding":{"x":{"field":"t","type":"quantitative","scale":{"domain":[0,1440],"nice":false,"zero":false},"axis":null},"y":{"field":"ya","type":"quantitative","scale":{"domain":[-10,10],"nice":false,"zero":false},"axis":null}}},
 {"mark":{"type":"rule","color":"#FF0000","strokeWidth":2.5,"strokeCap":"square"},"encoding":{"x":{"field":"t","type":"quantitative","scale":{"domain":[0,1440],"nice":false,"zero":false},"axis":{"orient":"bottom","values":[0,120,240,360,480,600,720,840,960,1080,1200,1320,1440],"labels":false,"tickSize":{"condition":{"test":"datum.value % 360 === 0","value":-7},"value":-4},"title":null}},"y":{"field":"yr1","type":"quantitative","scale":{"domain":[-10,10],"nice":false,"zero":false},"axis":{"orient":"left","values":[-10,-5,0,5,10],"labelExpr":"datum.value==0||datum.value==-10?datum.label:''","tickSize":-6,"title":"By(T)"}},"y2":{"field":"yr2"}}},
 {"mark":{"type":"square","size":16,"color":"#0000FF","opacity":1},"encoding":{"x":{"field":"t","type":"quantitative","scale":{"domain":[0,1440],"nice":false,"zero":false},"axis":{"orient":"top","values":[0,120,240,360,480,600,720,840,960,1080,1200,1320,1440],"labels":false,"tickSize":{"condition":{"test":"datum.value % 360 === 0","value":-7},"value":-4},"title":null}},"y":{"field":"yb","type":"quantitative","scale":{"domain":[-10,10],"nice":false,"zero":false},"axis":{"orient":"right","values":[-10,-5,0,5,10],"labels":false,"tickSize":-6,"title":null}}}}
],"resolve":{"axis":{"x":"independent","y":"independent"}}},
{"width":414,"height":81,"layer":[
 {"data":{"values":[{"z":0}]},"mark":{"type":"rule","color":"#888888","strokeDash":[8,4]},"encoding":{"y":{"field":"z","type":"quantitative","scale":{"domain":[-10,10],"nice":false,"zero":false},"axis":null}}},
 {"mark":{"type":"square","size":5,"color":"#CC8866","opacity":1},"encoding":{"x":{"field":"t","type":"quantitative","scale":{"domain":[0,1440],"nice":false,"zero":false},"axis":null},"y":{"field":"za","type":"quantitative","scale":{"domain":[-10,10],"nice":false,"zero":false},"axis":null}}},
 {"mark":{"type":"rule","color":"#FF0000","strokeWidth":2.5,"strokeCap":"square"},"encoding":{"x":{"field":"t","type":"quantitative","scale":{"domain":[0,1440],"nice":false,"zero":false},"axis":{"orient":"bottom","values":[0,120,240,360,480,600,720,840,960,1080,1200,1320,1440],"labels":false,"tickSize":{"condition":{"test":"datum.value % 360 === 0","value":-7},"value":-4},"title":null}},"y":{"field":"zr1","type":"quantitative","scale":{"domain":[-10,10],"nice":false,"zero":false},"axis":{"orient":"left","values":[-10,-5,0,5,10],"labelExpr":"datum.value==0||datum.value==-10?datum.label:''","tickSize":-6,"title":"Bz(N)"}},"y2":{"field":"zr2"}}},
 {"mark":{"type":"square","size":16,"color":"#0000FF","opacity":1},"encoding":{"x":{"field":"t","type":"quantitative","scale":{"domain":[0,1440],"nice":false,"zero":false},"axis":{"orient":"top","values":[0,120,240,360,480,600,720,840,960,1080,1200,1320,1440],"labels":false,"tickSize":{"condition":{"test":"datum.value % 360 === 0","value":-7},"value":-4},"title":null}},"y":{"field":"zb","type":"quantitative","scale":{"domain":[-10,10],"nice":false,"zero":false},"axis":{"orient":"right","values":[-10,-5,0,5,10],"labels":false,"tickSize":-6,"title":null}}}}
],"resolve":{"axis":{"x":"independent","y":"independent"}}},
{"width":414,"height":81,"layer":[
 {"mark":{"type":"square","size":5,"color":"#CC8866","opacity":1},"encoding":{"x":{"field":"t","type":"quantitative","scale":{"domain":[0,1440],"nice":false,"zero":false},"axis":null},"y":{"field":"ba","type":"quantitative","scale":{"domain":[0,8],"nice":false,"zero":false},"axis":null}}},
 {"mark":{"type":"rule","color":"#FF0000","strokeWidth":2.5,"strokeCap":"square"},"encoding":{"x":{"field":"t","type":"quantitative","scale":{"domain":[0,1440],"nice":false,"zero":false},"axis":{"orient":"bottom","values":[0,120,240,360,480,600,720,840,960,1080,1200,1320,1440],"labels":false,"tickSize":{"condition":{"test":"datum.value % 360 === 0","value":-7},"value":-4},"title":null}},"y":{"field":"br1","type":"quantitative","scale":{"domain":[0,8],"nice":false,"zero":false},"axis":{"orient":"left","values":[0,2,4,6,8],"labelExpr":"datum.value==0||datum.value==4?datum.label:''","tickSize":-6,"title":"total B"}},"y2":{"field":"br2"}}},
 {"mark":{"type":"square","size":16,"color":"#0000FF","opacity":1},"encoding":{"x":{"field":"t","type":"quantitative","scale":{"domain":[0,1440],"nice":false,"zero":false},"axis":{"orient":"top","values":[0,120,240,360,480,600,720,840,960,1080,1200,1320,1440],"labels":false,"tickSize":{"condition":{"test":"datum.value % 360 === 0","value":-7},"value":-4},"title":null}},"y":{"field":"bb","type":"quantitative","scale":{"domain":[0,8],"nice":false,"zero":false},"axis":{"orient":"right","values":[0,2,4,6,8],"labels":false,"tickSize":-6,"title":null}}}}
],"resolve":{"axis":{"x":"independent","y":"independent"}}},
{"width":414,"height":81,"layer":[
 {"mark":{"type":"square","size":5,"color":"#CC8866","opacity":1},"encoding":{"x":{"field":"t","type":"quantitative","scale":{"domain":[0,1440],"nice":false,"zero":false},"axis":null},"y":{"field":"ha","type":"quantitative","scale":{"domain":[-90,90],"nice":false,"zero":false},"axis":null}}},
 {"mark":{"type":"rule","color":"#FF0000","strokeWidth":2.5,"strokeCap":"square"},"encoding":{"x":{"field":"t","type":"quantitative","scale":{"domain":[0,1440],"nice":false,"zero":false},"axis":{"orient":"bottom","values":[0,120,240,360,480,600,720,840,960,1080,1200,1320,1440],"labels":false,"tickSize":{"condition":{"test":"datum.value % 360 === 0","value":-7},"value":-4},"title":null}},"y":{"field":"hr1","type":"quantitative","scale":{"domain":[-90,90],"nice":false,"zero":false},"axis":{"orient":"left","values":[-90,-45,0,45,90],"labelExpr":"datum.value==90?'':datum.label","tickSize":-6,"title":"θB"}},"y2":{"field":"hr2"}}},
 {"mark":{"type":"square","size":16,"color":"#0000FF","opacity":1},"encoding":{"x":{"field":"t","type":"quantitative","scale":{"domain":[0,1440],"nice":false,"zero":false},"axis":{"orient":"top","values":[0,120,240,360,480,600,720,840,960,1080,1200,1320,1440],"labels":false,"tickSize":{"condition":{"test":"datum.value % 360 === 0","value":-7},"value":-4},"title":null}},"y":{"field":"hb","type":"quantitative","scale":{"domain":[-90,90],"nice":false,"zero":false},"axis":{"orient":"right","values":[-90,-45,0,45,90],"labels":false,"tickSize":-6,"title":null}}}}
],"resolve":{"axis":{"x":"independent","y":"independent"}}},
{"width":414,"height":81,"layer":[
 {"mark":{"type":"square","size":5,"color":"#CC8866","opacity":1},"encoding":{"x":{"field":"t","type":"quantitative","scale":{"domain":[0,1440],"nice":false,"zero":false},"axis":null},"y":{"field":"pa","type":"quantitative","scale":{"domain":[0,360],"nice":false,"zero":false},"axis":null}}},
 {"mark":{"type":"rule","color":"#FF0000","strokeWidth":2.5,"strokeCap":"square"},"encoding":{"x":{"field":"t","type":"quantitative","scale":{"domain":[0,1440],"nice":false,"zero":false},"axis":{"orient":"bottom","values":[0,120,240,360,480,600,720,840,960,1080,1200,1320,1440],"labels":false,"tickSize":{"condition":{"test":"datum.value % 360 === 0","value":-7},"value":-4},"title":null}},"y":{"field":"pr1","type":"quantitative","scale":{"domain":[0,360],"nice":false,"zero":false},"axis":{"orient":"left","values":[0,90,180,270,360],"labelExpr":"datum.value==360?'':datum.label","tickSize":-6,"title":"φB"}},"y2":{"field":"pr2"}}},
 {"mark":{"type":"square","size":16,"color":"#0000FF","opacity":1},"encoding":{"x":{"field":"t","type":"quantitative","scale":{"domain":[0,1440],"nice":false,"zero":false},"axis":{"orient":"top","values":[0,120,240,360,480,600,720,840,960,1080,1200,1320,1440],"labels":false,"tickSize":{"condition":{"test":"datum.value % 360 === 0","value":-7},"value":-4},"title":null}},"y":{"field":"pb","type":"quantitative","scale":{"domain":[0,360],"nice":false,"zero":false},"axis":{"orient":"right","values":[0,90,180,270,360],"labels":false,"tickSize":-6,"title":null}}}}
],"resolve":{"axis":{"x":"independent","y":"independent"}}},
{"width":414,"height":81,"layer":[
 {"mark":{"type":"square","size":5,"color":"#CC8866","opacity":1},"encoding":{"x":{"field":"t","type":"quantitative","scale":{"domain":[0,1440],"nice":false,"zero":false},"axis":null},"y":{"field":"na","type":"quantitative","scale":{"type":"log","domain":[0.1,100],"nice":false},"axis":null}}},
 {"mark":{"type":"rule","color":"#FF0000","strokeWidth":2.5,"strokeCap":"square"},"encoding":{"x":{"field":"t","type":"quantitative","scale":{"domain":[0,1440],"nice":false,"zero":false},"axis":{"orient":"bottom","values":[0,120,240,360,480,600,720,840,960,1080,1200,1320,1440],"labels":false,"tickSize":{"condition":{"test":"datum.value % 360 === 0","value":-7},"value":-4},"title":null}},"y":{"field":"nr1","type":"quantitative","scale":{"type":"log","domain":[0.1,100],"nice":false},"axis":{"orient":"left","values":[0.1,0.2,0.3,0.4,0.5,0.6,0.7,0.8,0.9,1,2,3,4,5,6,7,8,9,10,20,30,40,50,60,70,80,90,100],"labelExpr":"datum.value==1?'1':datum.value==10?'10':''","tickSize":{"condition":{"test":"datum.value==0.1||datum.value==1||datum.value==10||datum.value==100","value":-7},"value":-3},"title":"Nₚ (cm⁻³)"}},"y2":{"field":"nr2"}}},
 {"mark":{"type":"square","size":16,"color":"#0000FF","opacity":1},"encoding":{"x":{"field":"t","type":"quantitative","scale":{"domain":[0,1440],"nice":false,"zero":false},"axis":{"orient":"top","values":[0,120,240,360,480,600,720,840,960,1080,1200,1320,1440],"labels":false,"tickSize":{"condition":{"test":"datum.value % 360 === 0","value":-7},"value":-4},"title":null}},"y":{"field":"nb","type":"quantitative","scale":{"type":"log","domain":[0.1,100],"nice":false},"axis":{"orient":"right","values":[0.1,0.2,0.3,0.4,0.5,0.6,0.7,0.8,0.9,1,2,3,4,5,6,7,8,9,10,20,30,40,50,60,70,80,90,100],"labels":false,"tickSize":{"condition":{"test":"datum.value==0.1||datum.value==1||datum.value==10||datum.value==100","value":-7},"value":-3},"title":null}}}}
],"resolve":{"axis":{"x":"independent","y":"independent"}}},
{"width":414,"height":81,"layer":[
 {"mark":{"type":"square","size":5,"color":"#CC8866","opacity":1},"encoding":{"x":{"field":"t","type":"quantitative","scale":{"domain":[0,1440],"nice":false,"zero":false},"axis":null},"y":{"field":"va","type":"quantitative","scale":{"domain":[300,800],"nice":false,"zero":false},"axis":null}}},
 {"mark":{"type":"rule","color":"#FF0000","strokeWidth":2.5,"strokeCap":"square"},"encoding":{"x":{"field":"t","type":"quantitative","scale":{"domain":[0,1440],"nice":false,"zero":false},"axis":{"orient":"bottom","values":[0,120,240,360,480,600,720,840,960,1080,1200,1320,1440],"labels":false,"tickSize":{"condition":{"test":"datum.value % 360 === 0","value":-7},"value":-4},"title":null}},"y":{"field":"vr1","type":"quantitative","scale":{"domain":[300,800],"nice":false,"zero":false},"axis":{"orient":"left","values":[300,320,340,360,380,400,420,440,460,480,500,520,540,560,580,600,620,640,660,680,700,720,740,760,780,800],"labelExpr":"datum.value==400||datum.value==600?datum.label:''","tickSize":{"condition":{"test":"datum.value % 200 === 0","value":-7},"value":-3},"title":"V (km/s)"}},"y2":{"field":"vr2"}}},
 {"mark":{"type":"square","size":16,"color":"#0000FF","opacity":1},"encoding":{"x":{"field":"t","type":"quantitative","scale":{"domain":[0,1440],"nice":false,"zero":false},"axis":{"orient":"top","values":[0,120,240,360,480,600,720,840,960,1080,1200,1320,1440],"labels":false,"tickSize":{"condition":{"test":"datum.value % 360 === 0","value":-7},"value":-4},"title":null}},"y":{"field":"vb","type":"quantitative","scale":{"domain":[300,800],"nice":false,"zero":false},"axis":{"orient":"right","values":[300,320,340,360,380,400,420,440,460,480,500,520,540,560,580,600,620,640,660,680,700,720,740,760,780,800],"labels":false,"tickSize":{"condition":{"test":"datum.value % 200 === 0","value":-7},"value":-3},"title":null}}}}
],"resolve":{"axis":{"x":"independent","y":"independent"}}},
{"width":414,"height":81,"layer":[
 {"mark":{"type":"square","size":5,"color":"#CC8866","opacity":1},"encoding":{"x":{"field":"t","type":"quantitative","scale":{"domain":[0,1440],"nice":false,"zero":false},"axis":null},"y":{"field":"ta","type":"quantitative","scale":{"type":"log","domain":[1e4,1e7],"nice":false},"axis":null}}},
 {"mark":{"type":"rule","color":"#FF0000","strokeWidth":2.5,"strokeCap":"square"},"encoding":{"x":{"field":"t","type":"quantitative","scale":{"domain":[0,1440],"nice":false,"zero":false},"axis":{"orient":"bottom","values":[0,120,240,360,480,600,720,840,960,1080,1200,1320,1440],"labels":true,"labelPadding":11,"labelExpr":"datum.value==0||datum.value==1440?'00:00':datum.value==360?'06:00':datum.value==720?'12:00':datum.value==1080?'18:00':''","tickSize":{"condition":{"test":"datum.value % 360 === 0","value":-7},"value":-4},"title":null}},"y":{"field":"tr1","type":"quantitative","scale":{"type":"log","domain":[1e4,1e7],"nice":false},"axis":{"orient":"left","values":[10000,100000,1000000,10000000],"labelExpr":"datum.value==100000?'10⁵':datum.value==1000000?'10⁶':''","tickSize":-7,"title":"Ion Temp"}},"y2":{"field":"tr2"}}},
 {"mark":{"type":"square","size":16,"color":"#0000FF","opacity":1},"encoding":{"x":{"field":"t","type":"quantitative","scale":{"domain":[0,1440],"nice":false,"zero":false},"axis":{"orient":"top","values":[0,120,240,360,480,600,720,840,960,1080,1200,1320,1440],"labels":false,"tickSize":{"condition":{"test":"datum.value % 360 === 0","value":-7},"value":-4},"title":null}},"y":{"field":"tb","type":"quantitative","scale":{"type":"log","domain":[1e4,1e7],"nice":false},"axis":{"orient":"right","values":[10000,100000,1000000,10000000],"labels":false,"tickSize":-7,"title":null}}}}
],"resolve":{"axis":{"x":"independent","y":"independent"}}},
{"width":414,"height":40,"view":{"stroke":null},
 "data":{"values":[{"x":150,"s":"BLUE: Behind","c":"b"},{"x":720,"s":"Start:\u00a0\u00a0\u00a02-Aug-2007\u00a0\u00a000:00\u00a0\u00a0UTC","c":"k"},{"x":1306,"s":"RED: Ahead","c":"r"}]},
 "layer":[
  {"transform":[{"filter":"datum.c=='b'"}],"mark":{"type":"text","fontSize":14,"font":"Liberation Sans","dy":11,"color":"#0000FF"},"encoding":{"x":{"field":"x","type":"quantitative","scale":{"domain":[0,1440],"nice":false,"zero":false},"axis":null},"text":{"field":"s"}}},
  {"transform":[{"filter":"datum.c=='k'"}],"mark":{"type":"text","fontSize":14,"font":"Liberation Sans","dy":11,"color":"#000000"},"encoding":{"x":{"field":"x","type":"quantitative","scale":{"domain":[0,1440],"nice":false,"zero":false},"axis":null},"text":{"field":"s"}}},
  {"transform":[{"filter":"datum.c=='r'"}],"mark":{"type":"text","fontSize":14,"font":"Liberation Sans","dy":11,"color":"#FF0000"},"encoding":{"x":{"field":"x","type":"quantitative","scale":{"domain":[0,1440],"nice":false,"zero":false},"axis":null},"text":{"field":"s"}}}
 ]}
],"spacing":0,"bounds":"flush"}
],
"spacing":78,
"bounds":"flush",
"config":{
 "view":{"stroke":"#000000","strokeWidth":1},
 "font":"Liberation Sans",
 "axis":{"grid":false,"domain":false,"tickColor":"#000000","tickWidth":1,"labelColor":"#000000","labelFont":"Liberation Sans","labelFontSize":14,"titleFont":"Liberation Sans","titleFontSize":14,"titleFontWeight":"normal","titleColor":"#000000","labelOverlap":false,"labelBound":false,"labelFlush":false},
 "axisY":{"labelPadding":10,"titlePadding":13},
 "axisX":{"labelPadding":14}
}
}
